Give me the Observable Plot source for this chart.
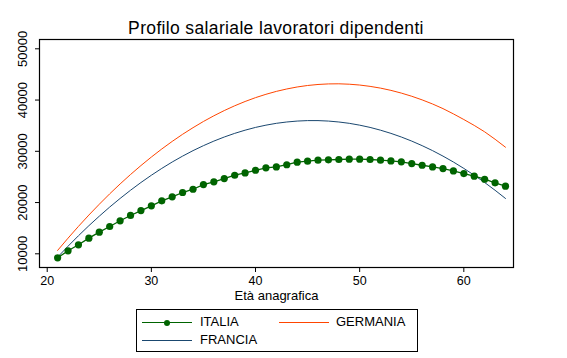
<!DOCTYPE html>
<html>
<head>
<meta charset="utf-8">
<script src="https://cdn.jsdelivr.net/npm/d3@7"></script>
<script src="https://cdn.jsdelivr.net/npm/@observablehq/plot@0.6"></script>
<style>
  html, body { margin: 0; padding: 0; background: #fff; }
  #wrap { position: relative; width: 567px; height: 358px; overflow: hidden; font-family: "Liberation Sans", Arial, sans-serif; color: #000; }
  #title { position: absolute; left: 0; top: 19px; width: 552px; text-align: center; font-size: 17.5px; letter-spacing: 0.35px; line-height: 18px; white-space: nowrap; }
  #chart { position: absolute; left: 0; top: 0; }
  #legend { position: absolute; left: 136px; top: 309px; width: 282px; height: 43px; box-sizing: border-box; border: 1px solid #000; }
  .sw { position: absolute; height: 1px; width: 50px; }
  .mk { position: absolute; width: 6px; height: 6px; border-radius: 50%; }
  .lb { position: absolute; font-size: 13px; line-height: 14px; white-space: nowrap; }
</style>
</head>
<body>
<div id="wrap">
  <div id="chart"></div>
  <div id="title">Profilo salariale lavoratori dipendenti</div>
  <div id="legend"></div>
</div>
<script>
const ages = [21,22,23,24,25,26,27,28,29,30,31,32,33,34,35,36,37,38,39,40,41,42,43,44,45,46,47,48,49,50,51,52,53,54,55,56,57,58,59,60,61,62,63,64];
const italia = [9220,10585,11760,13050,14220,15330,16440,17480,18440,19360,20330,21110,21960,22600,23510,24040,24680,25330,25790,26300,26770,26960,27380,27870,28070,28260,28330,28400,28460,28460,28400,28260,28130,27940,27610,27280,26960,26630,26180,25660,25140,24550,23840,23190];
const germania = [10660,13050,15350,17560,19670,21700,23630,25470,27220,28880,30450,31930,33320,34610,35820,36930,37950,38880,39720,40470,41120,41690,42160,42550,42840,43040,43150,43170,43090,42930,42670,42330,41890,41360,40740,40030,39230,38330,37300,36200,35050,33800,32350,30800];
const francia = [9350,11480,13520,15480,17340,19120,20800,22400,23910,25330,26660,27910,29060,30130,31100,31990,32790,33500,34120,34660,35100,35460,35720,35900,35990,35990,35900,35720,35460,35100,34660,34120,33500,32790,31990,31100,30130,29060,27910,26660,25330,23910,22400,20800];
const xTicks = [20,30,40,50,60];
const yTicks = [10000,20000,30000,40000,50000];
const seriesNames = ["ITALIA","GERMANIA","FRANCIA"];
const colors = {ITALIA: "#006400", GERMANIA: "#ff4500", FRANCIA: "#1a476f"};

const rows = (vals) => ages.map((a, i) => ({age: a, value: vals[i]}));
const itRows = rows(italia), deRows = rows(germania), frRows = rows(francia);

const chart = Plot.plot({
  width: 567, height: 305,
  marginTop: 39, marginLeft: 39, marginRight: 54, marginBottom: 38,
  x: {domain: [19.26, 64.77]},
  y: {domain: [7327, 51815]},
  style: {fontFamily: "'Liberation Sans', Arial, sans-serif", fontSize: "13px", color: "#000", background: "transparent"},
  marks: [
    Plot.frame({stroke: "#000", strokeWidth: 1.2}),
    Plot.axisX({ticks: xTicks, tickSize: 5, tickPadding: 4, label: null, fontSize: 12.5}),
    Plot.axisY({ticks: yTicks, tickSize: 4, tickFormat: () => "", label: null}),
    Plot.text(yTicks, {y: d => d, text: d => String(d), frameAnchor: "left", dx: -17, rotate: -90, textAnchor: "middle", lineAnchor: "middle", fontSize: 13}),
    Plot.text(["Età anagrafica"], {text: d => d, frameAnchor: "bottom", dy: 28, lineAnchor: "middle", fontSize: 13}),
    Plot.line(deRows, {x: "age", y: "value", stroke: colors.GERMANIA, strokeWidth: 1}),
    Plot.line(frRows, {x: "age", y: "value", stroke: colors.FRANCIA, strokeWidth: 1}),
    Plot.line(itRows, {x: "age", y: "value", stroke: colors.ITALIA, strokeWidth: 1.3}),
    Plot.dot(itRows, {x: "age", y: "value", r: 3.6, fill: colors.ITALIA, stroke: "none"})
  ]
});
document.getElementById("chart").appendChild(chart);

// legend (page coordinates relative to #wrap)
const wrap = document.getElementById("wrap");
const items = [
  {name: "ITALIA", lx: 142, ly: 322, tx: 200, marker: true},
  {name: "GERMANIA", lx: 279, ly: 322, tx: 336, marker: false},
  {name: "FRANCIA", lx: 142, ly: 340, tx: 200, marker: false}
];
for (const it of items) {
  const sw = document.createElement("div");
  sw.className = "sw";
  sw.style.left = it.lx + "px"; sw.style.top = it.ly + "px"; sw.style.background = colors[it.name];
  wrap.appendChild(sw);
  if (it.marker) {
    const mk = document.createElement("div");
    mk.className = "mk";
    mk.style.left = (it.lx + 22) + "px"; mk.style.top = (it.ly - 2.5) + "px"; mk.style.background = colors[it.name];
    wrap.appendChild(mk);
  }
  const lb = document.createElement("div");
  lb.className = "lb";
  lb.textContent = it.name;
  lb.style.left = it.tx + "px"; lb.style.top = (it.ly - 7) + "px";
  wrap.appendChild(lb);
}
</script>
</body>
</html>
